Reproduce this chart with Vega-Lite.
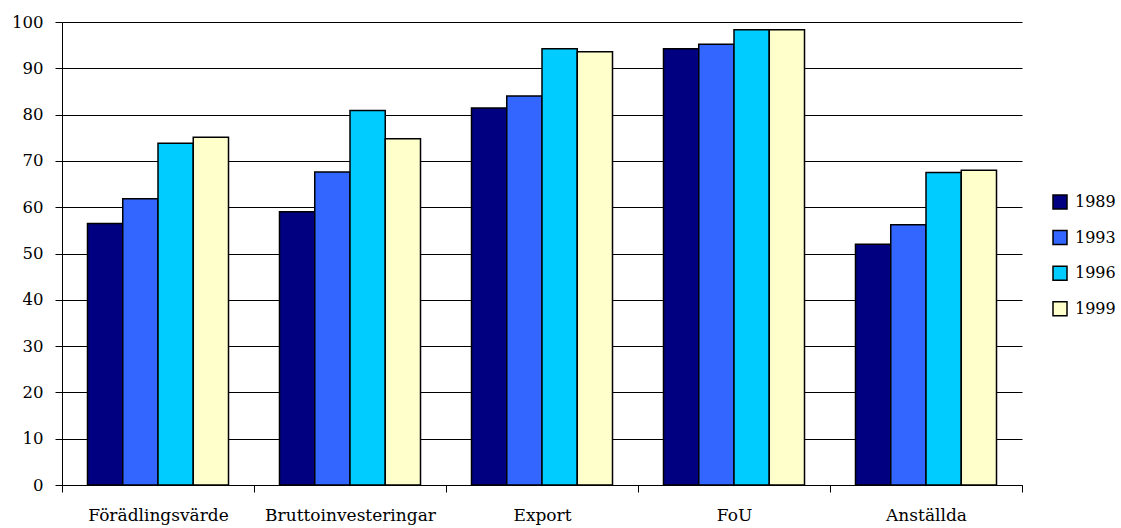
{
  "$schema": "https://vega.github.io/schema/vega-lite/v6.json",
  "width": 960,
  "height": 463,
  "autosize": {"type": "none"},
  "padding": {"left": 62, "top": 22, "right": 99, "bottom": 43},
  "background": "white",
  "config": {
    "font": "DejaVu Serif",
    "view": {"stroke": null}
  },
  "data": {
    "values": [
      {"kategori": "Förädlingsvärde", "år": "1989", "värde": 56.5},
      {"kategori": "Förädlingsvärde", "år": "1993", "värde": 61.8},
      {"kategori": "Förädlingsvärde", "år": "1996", "värde": 73.8},
      {"kategori": "Förädlingsvärde", "år": "1999", "värde": 75.1},
      {"kategori": "Bruttoinvesteringar", "år": "1989", "värde": 59.0},
      {"kategori": "Bruttoinvesteringar", "år": "1993", "värde": 67.6},
      {"kategori": "Bruttoinvesteringar", "år": "1996", "värde": 80.9},
      {"kategori": "Bruttoinvesteringar", "år": "1999", "värde": 74.8},
      {"kategori": "Export", "år": "1989", "värde": 81.4},
      {"kategori": "Export", "år": "1993", "värde": 84.0},
      {"kategori": "Export", "år": "1996", "värde": 94.2},
      {"kategori": "Export", "år": "1999", "värde": 93.6},
      {"kategori": "FoU", "år": "1989", "värde": 94.2},
      {"kategori": "FoU", "år": "1993", "värde": 95.2},
      {"kategori": "FoU", "år": "1996", "värde": 98.3},
      {"kategori": "FoU", "år": "1999", "värde": 98.3},
      {"kategori": "Anställda", "år": "1989", "värde": 52.0},
      {"kategori": "Anställda", "år": "1993", "värde": 56.2},
      {"kategori": "Anställda", "år": "1996", "värde": 67.5},
      {"kategori": "Anställda", "år": "1999", "värde": 68.0}
    ]
  },
  "mark": {"type": "bar", "stroke": "black", "strokeWidth": 1.5},
  "encoding": {
    "x": {
      "field": "kategori",
      "type": "nominal",
      "sort": null,
      "scale": {"paddingInner": 0, "paddingOuter": 0},
      "axis": {
        "title": null,
        "labelAngle": 0,
        "labelFont": "DejaVu Serif",
        "labelFontSize": 17,
        "labelColor": "black",
        "labelPadding": 15,
        "tickBand": "extent",
        "tickColor": "black",
        "tickSize": 7,
        "domainColor": "black",
        "grid": false
      }
    },
    "xOffset": {
      "field": "år",
      "type": "nominal",
      "scale": {"paddingInner": 0, "paddingOuter": 0.723}
    },
    "y": {
      "field": "värde",
      "type": "quantitative",
      "scale": {"domain": [0, 100], "nice": false},
      "axis": {
        "title": null,
        "values": [0, 10, 20, 30, 40, 50, 60, 70, 80, 90, 100],
        "labelFont": "DejaVu Serif",
        "labelFontSize": 16.5,
        "labelColor": "black",
        "labelPadding": 12,
        "tickColor": "black",
        "tickSize": 7,
        "domainColor": "black",
        "gridColor": "black",
        "gridOpacity": 1,
        "gridWidth": 1
      }
    },
    "fill": {
      "field": "år",
      "type": "nominal",
      "scale": {
        "domain": ["1989", "1993", "1996", "1999"],
        "range": ["#000080", "#3366FF", "#00CCFF", "#FFFFCC"]
      },
      "legend": {
        "title": null,
        "orient": "none",
        "legendX": 990,
        "legendY": 172,
        "symbolType": "square",
        "symbolSize": 196,
        "symbolStrokeColor": "black",
        "symbolStrokeWidth": 1.5,
        "labelFont": "DejaVu Serif",
        "labelFontSize": 16,
        "labelColor": "black",
        "labelOffset": 7,
        "rowPadding": 15.6
      }
    }
  }
}
